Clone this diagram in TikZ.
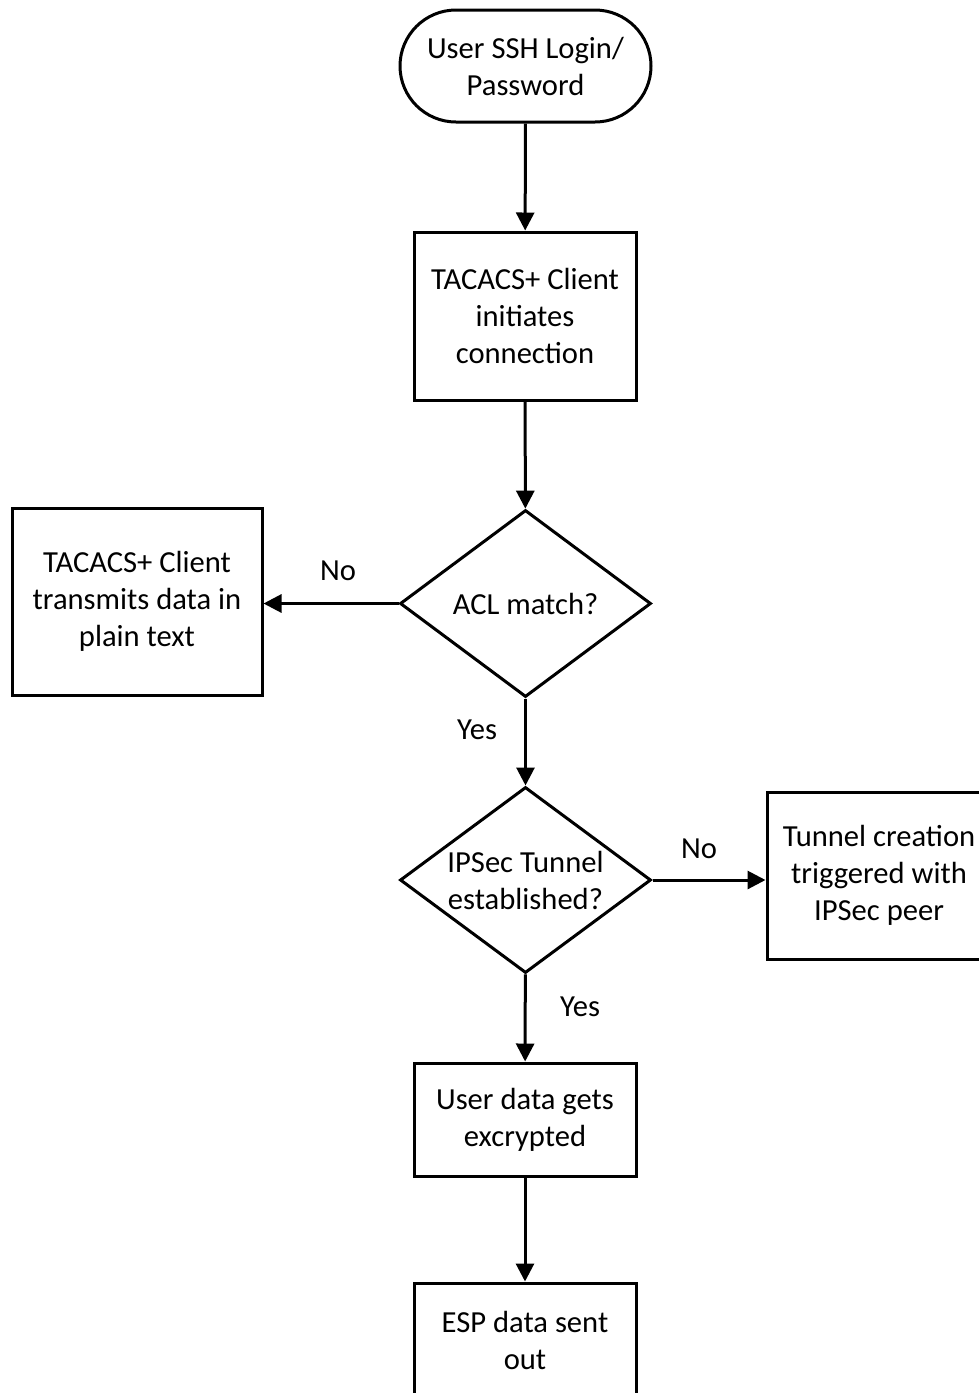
\documentclass[tikz,border=0pt]{standalone}
\usepackage{fontspec}
\setmainfont{Carlito}
\usetikzlibrary{arrows.meta,shapes.geometric}
\begin{document}
\begin{tikzpicture}[x=0.5pt,y=-0.5pt,
  every node/.style={font=\fontsize{15.3}{18.5}\selectfont, text=black},
  procbox/.style={draw, line width=1.5pt, rectangle, align=center, inner sep=0pt},
  termbox/.style={draw, line width=1.5pt, rectangle, rounded corners=28pt, align=center, inner sep=0pt},
  decision/.style={draw, line width=1.5pt, diamond, inner sep=0pt},
  dtext/.style={align=center, inner sep=0pt},
  flow/.style={line width=1.5pt, -{Triangle[length=9pt,width=9pt]}},
  lbl/.style={inner sep=0pt}]
\clip (0,0) rectangle (979,1393);
\node[termbox, minimum width=125.5pt, minimum height=56pt] (start) at (525.5,66) {User SSH Login/\\Password};
\node[procbox, minimum width=111pt, minimum height=84pt] (init) at (525,316) {TACACS+ Client\\initiates\\connection};
\node[decision, minimum width=125.5pt, minimum height=93.5pt] (acl) at (525.5,603.5) {};
\node[dtext] (acltext) at (acl.center) {ACL match?};
\node[procbox, minimum width=125pt, minimum height=93.5pt] (plain) at (137,601.5) {TACACS+ Client\\transmits data in\\plain text};
\node[decision, minimum width=125.5pt, minimum height=93pt] (ipsec) at (525.5,880) {};
\node[dtext] (ipsectext) at (ipsec.center) {IPSec Tunnel\\established?};
\node[procbox, minimum width=112pt, minimum height=83.5pt] (tunnel) at (879,875.5) {Tunnel creation\\triggered with\\IPSec peer};
\node[procbox, minimum width=111pt, minimum height=56.5pt] (enc) at (525,1119.5) {User data gets\\excrypted};
\node[procbox, minimum width=111pt, minimum height=57pt] (esp) at (525,1340) {ESP data sent\\out};
\draw[flow] (start) -- (init);
\draw[flow] (init) -- (acl);
\draw[flow] (acl.west) -- (acl.west -| plain.east);
\draw[flow] (acl) -- (ipsec);
\draw[flow] (ipsec.east) -- (ipsec.east -| tunnel.west);
\draw[flow] (ipsec) -- (enc);
\draw[flow] (enc) -- (esp);
\node[lbl] (no1) at (338,571) {No};
\node[lbl] (yes1) at (477,730) {Yes};
\node[lbl] (no2) at (699,849) {No};
\node[lbl] (yes2) at (580,1007) {Yes};
\end{tikzpicture}
\end{document}
